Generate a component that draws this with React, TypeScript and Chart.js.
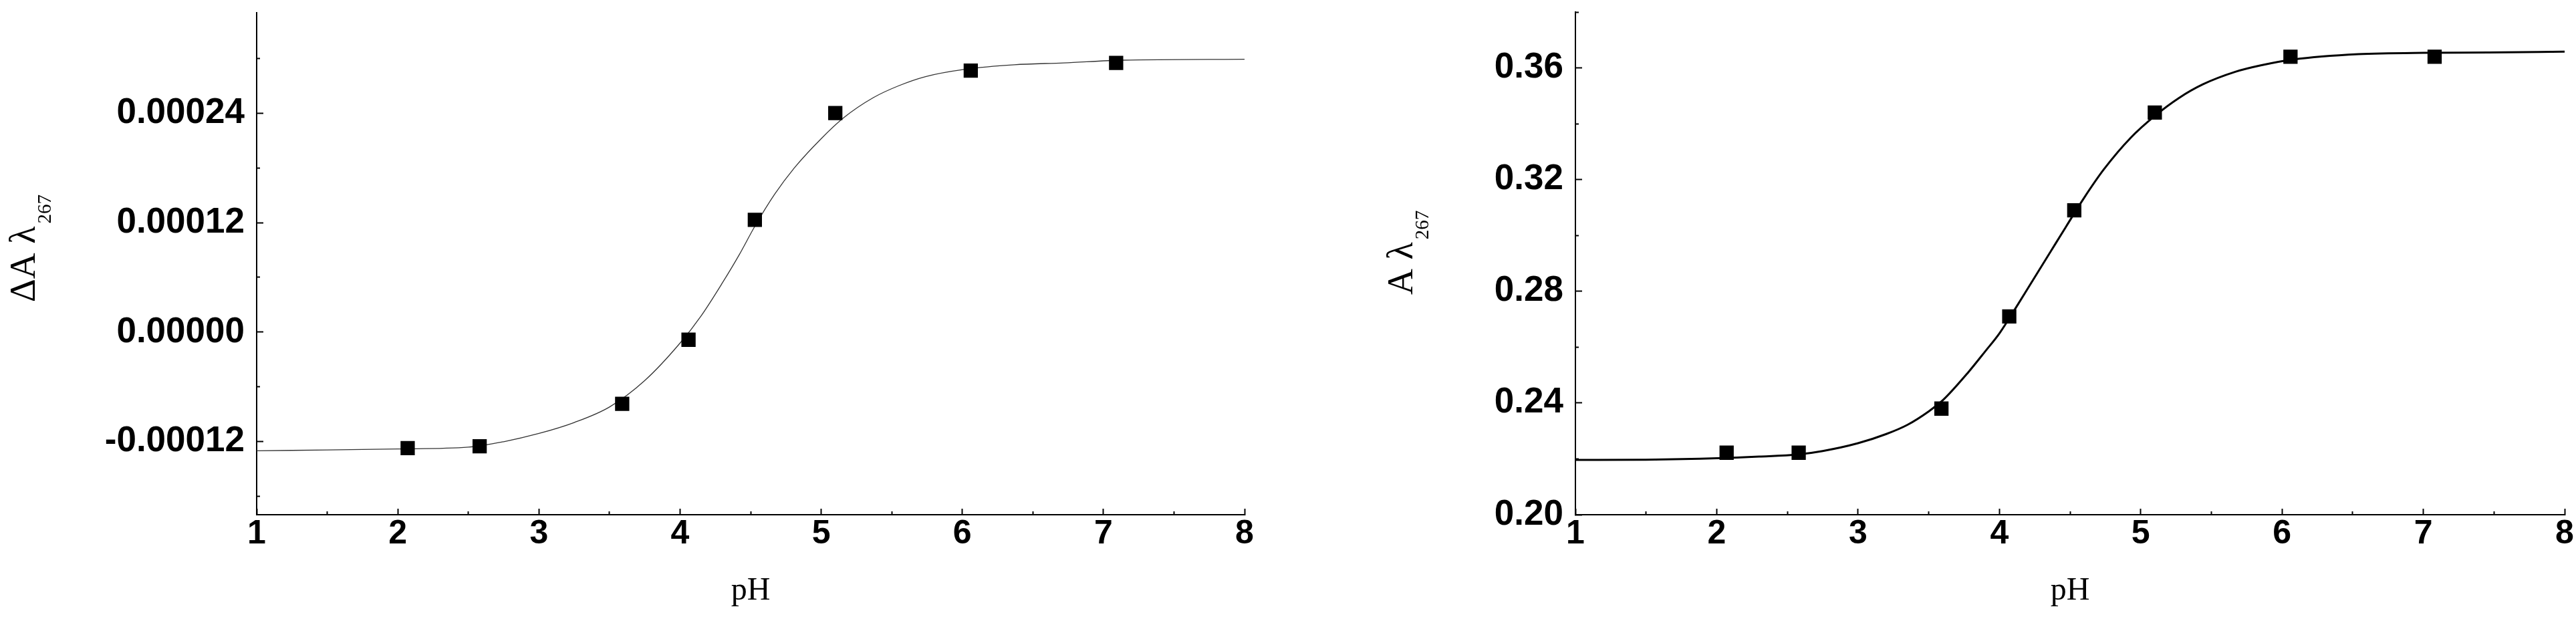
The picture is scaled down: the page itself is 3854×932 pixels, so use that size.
import React, { useEffect, useRef } from 'react';
import { Chart, registerables } from 'chart.js';

Chart.register(...registerables);

// ---------- data ----------
const xMajorTicks = [1, 2, 3, 4, 5, 6, 7, 8];
const xTickLabels = ['1', '2', '3', '4', '5', '6', '7', '8'];
const xMinorTicks = [1.5, 2.5, 3.5, 4.5, 5.5, 6.5, 7.5];
const xTitle = 'pH';

// left panel: ΔA at 267 nm
const leftPointX = [2.07, 2.58, 3.59, 4.06, 4.53, 5.1, 6.06, 7.09];
const leftPointY = [-0.000127, -0.000125, -0.0000785, -0.0000083, 0.000123, 0.00024, 0.0002865, 0.000295];
const leftCurveX = [1, 1.5, 2, 2.5, 2.75, 3, 3.25, 3.5, 3.75, 4, 4.15, 4.3, 4.42, 4.53, 4.67, 4.81, 5.0, 5.16, 5.37, 5.55, 5.74, 6.02, 6.37, 6.72, 7.14, 8];
const leftCurveY = [-0.00013, -0.000129, -0.000128, -0.000126, -0.00012, -0.000111, -0.000099, -0.000082, -0.000053, -0.000012, 0.000018, 0.000054, 0.000085, 0.000116, 0.000151, 0.00018, 0.000212, 0.000235, 0.000257, 0.00027, 0.00028, 0.000288, 0.000293, 0.000295, 0.000298, 0.000299];
const leftYMajorTicks = [-0.00012, 0, 0.00012, 0.00024];
const leftYTickLabels = ['-0.00012', '0.00000', '0.00012', '0.00024'];
const leftYMinorTicks = [-0.00018, -0.00006, 0.00006, 0.00018, 0.0003];
const leftYTitle = 'ΔA λ';
const leftYSub = '267';

// right panel: A at 267 nm
const rightPointX = [2.07, 2.58, 3.59, 4.07, 4.53, 5.1, 6.06, 7.08];
const rightPointY = [0.2222, 0.2222, 0.238, 0.271, 0.309, 0.344, 0.364, 0.364];
const rightCurveX = [1, 1.5, 2, 2.3, 2.58, 2.75, 3, 3.2, 3.35, 3.5, 3.6, 3.78, 3.9, 4.0, 4.13, 4.24, 4.36, 4.47, 4.6, 4.74, 4.93, 5.1, 5.27, 5.44, 5.67, 5.85, 6.08, 6.54, 7.0, 7.46, 8];
const rightCurveY = [0.2196, 0.2197, 0.2202, 0.2208, 0.2216, 0.2228, 0.2256, 0.2289, 0.2322, 0.237, 0.241, 0.251, 0.2585, 0.2649, 0.2752, 0.2842, 0.294, 0.303, 0.3135, 0.3237, 0.335, 0.3428, 0.3492, 0.3541, 0.3586, 0.3609, 0.363, 0.3649, 0.3654, 0.3655, 0.3658];
const rightYMajorTicks = [0.2, 0.24, 0.28, 0.32, 0.36];
const rightYTickLabels = ['0.20', '0.24', '0.28', '0.32', '0.36'];
const rightYMinorTicks = [0.22, 0.26, 0.3, 0.34, 0.38];
const rightYTitle = 'A λ';
const rightYSub = '267';

// ---------- config ----------
const SANS = '"Liberation Sans", Arial, sans-serif';
const SERIF = '"Liberation Serif", "Times New Roman", serif';
const W = 1927;
const H = 932;

type Spec = {
  px: number[]; py: number[]; cx: number[]; cy: number[];
  yMin: number; yMax: number;
  yMajor: number[]; yLabels: string[]; yMinor: number[];
  yTitle: string; ySub: string;
  yWidth: number; pad: { left: number; right: number; top: number; bottom: number };
  titleX: number; titleY: number;
  curveColor: string; curveWidth: number;
};

const zeroPad = (s: any) => {
  s.paddingLeft = 0; s.paddingRight = 0; s.paddingTop = 0; s.paddingBottom = 0;
};

function buildConfig(spec: Spec): any {
  const yTitlePlugin = {
    id: 'yTitleSub',
    afterDraw(chart: any) {
      const ctx = chart.ctx;
      ctx.save();
      ctx.fillStyle = '#000';
      ctx.translate(spec.titleX, spec.titleY);
      ctx.rotate(-Math.PI / 2);
      ctx.textAlign = 'left';
      ctx.textBaseline = 'alphabetic';
      ctx.font = `54px ${SERIF}`;
      ctx.fillText(spec.yTitle, 0, 0);
      const w = ctx.measureText(spec.yTitle).width;
      ctx.font = `29px ${SERIF}`;
      ctx.fillText(spec.ySub, w + 4, 24);
      ctx.restore();
    },
  };

  return {
    type: 'line',
    data: {
      datasets: [
        {
          label: 'data',
          data: spec.px.map((x, i) => ({ x, y: spec.py[i] })),
          showLine: false,
          pointStyle: 'rect',
          pointRadius: 14,
          pointBackgroundColor: '#000',
          pointBorderColor: '#000',
          pointBorderWidth: 1.5,
          order: 0,
          xAxisID: 'x',
          yAxisID: 'y',
        },
        {
          label: 'fit',
          data: spec.cx.map((x, i) => ({ x, y: spec.cy[i] })),
          borderColor: spec.curveColor,
          borderWidth: spec.curveWidth,
          pointRadius: 0,
          fill: false,
          cubicInterpolationMode: 'monotone',
          order: 1,
          xAxisID: 'x',
          yAxisID: 'y',
        },
      ],
    },
    options: {
      animation: false,
      responsive: false,
      maintainAspectRatio: false,
      events: [],
      layout: { padding: spec.pad, autoPadding: false },
      plugins: { legend: { display: false }, tooltip: { enabled: false } },
      scales: {
        x: {
          type: 'linear', position: 'bottom', min: 1, max: 8, weight: 1,
          afterBuildTicks: (s: any) => { s.ticks = xMajorTicks.map((v) => ({ value: v })); },
          afterFit: (s: any) => { s.height = H - 770; zeroPad(s); },
          ticks: {
            autoSkip: false, maxRotation: 0, padding: 8, color: '#000',
            font: { family: SANS, size: 50, weight: 'bold' },
            callback: (_v: any, i: number) => xTickLabels[i],
          },
          grid: { drawOnChartArea: false, drawTicks: true, tickLength: -9, tickWidth: 2, tickColor: '#000' },
          border: { display: true, color: '#000', width: 2 },
          title: {
            display: true, text: xTitle, color: '#000',
            font: { family: SERIF, size: 48, weight: 'normal' },
            padding: { top: 0, bottom: 19 },
          },
        },
        xMinor: {
          type: 'linear', position: 'bottom', min: 1, max: 8, weight: 0, display: true,
          afterBuildTicks: (s: any) => { s.ticks = xMinorTicks.map((v) => ({ value: v })); },
          afterFit: (s: any) => { s.height = 0; zeroPad(s); },
          ticks: { display: false },
          grid: { drawOnChartArea: false, drawTicks: true, tickLength: -5, tickWidth: 2, tickColor: '#000' },
          border: { display: false },
        },
        y: {
          type: 'linear', position: 'left', min: spec.yMin, max: spec.yMax, weight: 1,
          afterBuildTicks: (s: any) => { s.ticks = spec.yMajor.map((v) => ({ value: v })); },
          afterFit: (s: any) => { s.width = spec.yWidth; zeroPad(s); },
          ticks: {
            autoSkip: false, padding: 28, color: '#000',
            font: { family: SANS, size: 53, weight: 'bold' },
            callback: (_v: any, i: number) => spec.yLabels[i],
          },
          grid: { drawOnChartArea: false, drawTicks: true, tickLength: -10, tickWidth: 2, tickColor: '#000' },
          border: { display: true, color: '#000', width: 2 },
        },
        yMinor: {
          type: 'linear', position: 'left', min: spec.yMin, max: spec.yMax, weight: 0, display: true,
          afterBuildTicks: (s: any) => { s.ticks = spec.yMinor.map((v) => ({ value: v })); },
          afterFit: (s: any) => { s.width = 0; zeroPad(s); },
          ticks: { display: false },
          grid: { drawOnChartArea: false, drawTicks: true, tickLength: -5, tickWidth: 2, tickColor: '#000' },
          border: { display: false },
        },
      },
    },
    plugins: [yTitlePlugin],
  };
}

const leftSpec: Spec = {
  px: leftPointX, py: leftPointY, cx: leftCurveX, cy: leftCurveY,
  yMin: -0.0002, yMax: 0.00035,
  yMajor: leftYMajorTicks, yLabels: leftYTickLabels, yMinor: leftYMinorTicks,
  yTitle: leftYTitle, ySub: leftYSub,
  yWidth: 384, pad: { left: 0, right: 65, top: 19, bottom: 0 },
  titleX: 52, titleY: 452,
  curveColor: '#333', curveWidth: 1.3,
};

const rightSpec: Spec = {
  px: rightPointX, py: rightPointY, cx: rightCurveX, cy: rightCurveY,
  yMin: 0.2, yMax: 0.38,
  yMajor: rightYMajorTicks, yLabels: rightYTickLabels, yMinor: rightYMinorTicks,
  yTitle: rightYTitle, ySub: rightYSub,
  yWidth: 430, pad: { left: 0, right: 17, top: 18, bottom: 0 },
  titleX: 186, titleY: 441,
  curveColor: '#000', curveWidth: 3,
};

function Panel({ spec }: { spec: Spec }) {
  const ref = useRef<HTMLCanvasElement | null>(null);
  useEffect(() => {
    if (!ref.current) return;
    const chart = new Chart(ref.current, buildConfig(spec));
    return () => chart.destroy();
  }, [spec]);
  return (
    <canvas
      ref={ref}
      width={W}
      height={H}
      style={{ display: 'block', width: W, height: H }}
    />
  );
}

export default function App() {
  return (
    <div
      style={{
        position: 'absolute', left: 0, top: 0, width: 3854, height: 932,
        display: 'flex', background: '#fff', overflow: 'hidden',
      }}
    >
      <Panel spec={leftSpec} />
      <Panel spec={rightSpec} />
    </div>
  );
}
